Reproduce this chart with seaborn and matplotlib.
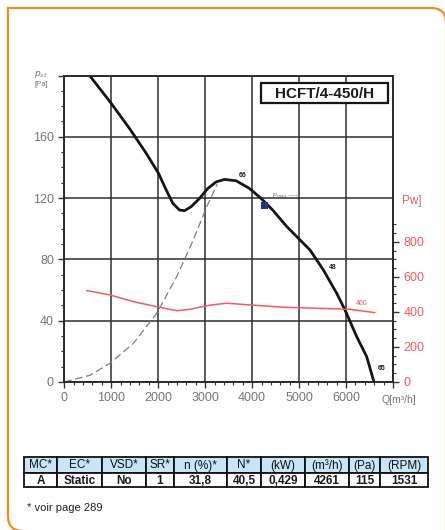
import matplotlib
matplotlib.use("Agg")
import matplotlib.pyplot as plt
from matplotlib.patches import Rectangle, PathPatch
from matplotlib.path import Path
from matplotlib.ticker import MultipleLocator, FixedLocator
import seaborn as sns

# fan curve (static pressure vs flow)
flow = [538, 1000, 1389, 1745, 2006, 2170, 2311, 2453, 2560, 2702, 2879, 3057, 3234, 3411, 3660,
        3943, 4191, 4438, 4736, 5234, 5517, 5801, 5978, 6227, 6440, 6595]
pressure = [200.0, 181.8, 165.4, 149.2, 136.2, 125.3, 116.6, 112.2, 111.8, 114.4, 119.8, 126.3, 130.6,
            132.2, 131.3, 126.3, 119.8, 112.2, 101.5, 86.1, 73.1, 57.9, 47.0, 29.6, 16.5, 0.0]

# system curve (dashed)
system_flow = [0, 549, 975, 1470, 1967, 2393, 2747, 3032, 3259]
system_pressure = [0, 4.4, 12.2, 25.2, 44.8, 68.7, 92.7, 114.4, 129.2]

# absorbed power (right axis)
power_flow = [477, 973, 1470, 1967, 2393, 2677, 3032, 3458, 3954, 4664, 5375, 6084, 6616]
power = [522, 497, 459, 430, 407, 415, 436, 450, 440, 427, 421, 415, 396]

# duty point
duty_flow = [4261]
duty_pressure = [115]

# sound labels along the curve
noise_flow = [3799, 5722, 6765]
noise_pressure = [135, 74.4, 8.5]
noise_labels = ["66", "48", "65"]

model = "HCFT/4-450/H"
col_heads = ["MC*", "EC*", "VSD*", "SR*", "n (%)*", "N*", "(kW)", "(m³/h)", "(Pa)", "(RPM)"]
col_values = ["A", "Static", "No", "1", "31,8", "40,5", "0,429", "4261", "115", "1531"]

W, H = 445, 530
RED = '#f25c5c'
GREY = '#767676'


def box(l, t, r, b):
    return [l / W, 1 - b / H, (r - l) / W, (b - t) / H]


sns.set_style("white")
plt.rcParams['font.family'] = ['Liberation Sans', 'DejaVu Sans']

fig = plt.figure(figsize=(W / 100, H / 100), dpi=100)
ax = fig.add_axes(box(64.3, 75.5, 393, 382))

sns.lineplot(x=system_flow, y=system_pressure, ax=ax, color='#7d7d7d', lw=0.9,
             linestyle=(0, (6, 3)))
sns.lineplot(x=flow, y=pressure, ax=ax, color='#161616', lw=2.0)
sns.scatterplot(x=duty_flow, y=duty_pressure, ax=ax, marker='s', s=28,
                color='#2b2f86', edgecolor='none', zorder=5)

ax.set_xlim(0, 7000)
ax.set_ylim(0, 200)
ax.set_xticks(range(0, 7001, 1000))
ax.set_xticklabels([str(v) for v in range(0, 7000, 1000)] + [''])
ax.set_yticks(range(0, 201, 40))
ax.set_yticklabels([str(v) for v in range(0, 200, 40)] + [''])
ax.xaxis.set_minor_locator(MultipleLocator(200))
ax.yaxis.set_minor_locator(MultipleLocator(10))
ax.grid(True, which='major', color='#2e2e2e', lw=1.1)
ax.tick_params(which='both', direction='out', bottom=True, left=True,
               color='#333333', labelcolor=GREY, labelsize=9)
ax.tick_params(which='major', length=4, width=1)
ax.tick_params(which='minor', length=2.5, width=0.8)
for s in ax.spines.values():
    s.set_color('#2a2a2a')
    s.set_linewidth(1.4)

for x, y, t in zip(noise_flow, noise_pressure, noise_labels):
    ax.text(x, y, t, fontsize=5, fontweight='bold', color='#222222', ha='center', va='center')
ax.text(4420, 121.5, r"P$_{max}$ ——", fontsize=4.5, color='#6060a8', va='center')

ax2 = ax.twinx()
sns.lineplot(x=power_flow, y=power, ax=ax2, color=RED, lw=1.1)
ax2.set_ylim(0, 1750)
ax2.set_yticks([0, 200, 400, 600, 800])
ax2.yaxis.set_minor_locator(FixedLocator(list(range(0, 901, 50))))
ax2.tick_params(which='both', direction='out', right=True, color='#333333',
                labelcolor=RED, labelsize=9)
ax2.tick_params(which='major', length=4, width=1)
ax2.tick_params(which='minor', length=2.5, width=0.8)
ax2.grid(False)
for s in ax2.spines.values():
    s.set_visible(False)
ax2.text(6330, 430, "400", fontsize=5, color=RED, ha='center', va='bottom')

# axis captions
fig.text(41 / W, 1 - 75 / H, r"$p_{st}$", fontsize=6.5, color=GREY, ha='center', va='center')
fig.text(41 / W, 1 - 85 / H, "[Pa]", fontsize=5.5, color=GREY, ha='center', va='center')
fig.text(381 / W, 1 - 400 / H, "Q[m³/h]", fontsize=7.5, color=GREY, ha='left', va='center')
fig.text(402 / W, 1 - 201 / H, "Pw]", fontsize=8.5, color=RED, ha='left', va='center')

# table, title box and frame, drawn in pixel coordinates
tab = fig.add_axes([0, 0, 1, 1])
tab.set_xlim(0, W)
tab.set_ylim(H, 0)
tab.axis('off')
tab.patch.set_alpha(0)

tab.add_patch(Rectangle((261, 83), 127, 20, fc='white', ec='#151515', lw=1.6))
tab.text(324.5, 93.5, model, fontsize=11, fontweight='bold', color='#1a1a1a',
         ha='center', va='center')

edges = [24, 57, 102, 146, 174, 227, 261, 305, 349, 380, 428]
for i in range(len(col_heads)):
    l, r = edges[i], edges[i + 1]
    tab.add_patch(Rectangle((l, 457), r - l, 16, fc='#c6e5f7', ec='#111111', lw=1.3))
    tab.add_patch(Rectangle((l, 473), r - l, 14, fc='white', ec='#111111', lw=1.3))
    tab.text((l + r) / 2, 465.5, col_heads[i], fontsize=8.5, color='#111111', ha='center', va='center')
    tab.text((l + r) / 2, 480.5, col_values[i], fontsize=8.5, fontweight='bold', color='#1a1a1a',
             ha='center', va='center')
tab.text(27, 508, "* voir page 289", fontsize=8, color='#222222', ha='left', va='center')

frame = Path([(23, 531), (8, 531), (8, 516), (8, 8), (431, 8), (446, 8), (446, 23), (446, 540)],
             [Path.MOVETO, Path.CURVE3, Path.CURVE3, Path.LINETO, Path.LINETO,
              Path.CURVE3, Path.CURVE3, Path.LINETO])
tab.add_patch(PathPatch(frame, fill=False, ec='#f28a22', lw=1.6))

fig.savefig("out.png", dpi=100)
